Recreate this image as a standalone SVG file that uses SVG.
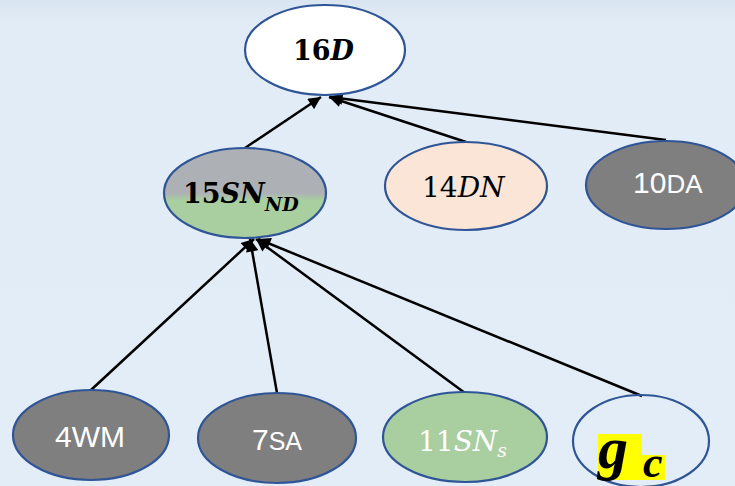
<svg xmlns="http://www.w3.org/2000/svg" width="735" height="486" viewBox="0 0 735 486">
<defs>
<linearGradient id="bg" x1="0" y1="0" x2="0" y2="1">
<stop offset="0" stop-color="#D9E5F1"/>
<stop offset="0.05" stop-color="#E2ECF6"/>
<stop offset="1" stop-color="#E3EDF7"/>
</linearGradient>
<linearGradient id="split" x1="0" y1="0" x2="0" y2="1">
<stop offset="0" stop-color="#ADB1B6"/>
<stop offset="0.5" stop-color="#ADB1B6"/>
<stop offset="0.58" stop-color="#A9CE9F"/>
<stop offset="1" stop-color="#A9CE9F"/>
</linearGradient>
<marker id="arr" viewBox="0 0 10 10" refX="10" refY="5" markerWidth="5.5" markerHeight="5" orient="auto" markerUnits="strokeWidth">
<path d="M0,0 L10,5 L0,10 z" fill="#000"/>
</marker>
</defs>
<style>
.n{stroke:#2F5597;stroke-width:2.2}
.gray{fill:#7F7F7F}
.e{stroke:#000;stroke-width:2.5;fill:none;marker-end:url(#arr)}
.serif{font-family:"DejaVu Serif","Liberation Serif",serif}
.lserif{font-family:"Liberation Serif","DejaVu Serif",serif}
.sans{font-family:"Liberation Sans","Noto Sans",sans-serif;fill:#fff}
</style>
<rect width="735" height="486" fill="url(#bg)"/>
<g id="connectors">
<line class="e" x1="245" y1="148" x2="321" y2="97"/>
<line class="e" x1="466" y1="142" x2="329" y2="97"/>
<line class="e" x1="666" y1="140" x2="330" y2="97"/>
<line class="e" x1="91" y1="390" x2="254" y2="239"/>
<line class="e" x1="277" y1="393" x2="250" y2="239"/>
<line class="e" x1="465" y1="393" x2="256" y2="239"/>
<line class="e" x1="642" y1="396" x2="258" y2="239"/>
</g>
<g id="n16D">
<ellipse class="n" cx="325" cy="50" rx="80" ry="45" fill="#fff"/>
<text class="serif" x="293" y="60" font-size="27" font-weight="bold">16<tspan font-style="italic">D</tspan></text>
</g>
<g id="n15SN">
<ellipse class="n" cx="245" cy="193" rx="81" ry="45" fill="url(#split)"/>
<text class="serif" x="183" y="203" font-size="27" font-weight="bold">15<tspan font-style="italic">SN</tspan><tspan font-style="italic" font-size="19" dy="8">ND</tspan></text>
</g>
<g id="n14DN">
<ellipse class="n" cx="466" cy="186" rx="81" ry="44" fill="#FBE5D6"/>
<text class="serif" x="422" y="197" font-size="28">14<tspan font-style="italic">DN</tspan></text>
</g>
<g id="n10DA">
<ellipse class="n gray" cx="666" cy="185" rx="80" ry="44"/>
<text class="sans" x="633" y="193" font-size="30">10<tspan font-size="26">DA</tspan></text>
</g>
<g id="n4WM">
<ellipse class="n gray" cx="91" cy="435" rx="78" ry="45"/>
<text class="sans" x="55" y="447" font-size="30">4WM</text>
</g>
<g id="n7SA">
<ellipse class="n gray" cx="277" cy="438" rx="79" ry="45"/>
<text class="sans" x="252" y="450" font-size="30">7<tspan font-size="25">SA</tspan></text>
</g>
<g id="n11SN">
<ellipse class="n" cx="465" cy="437" rx="82" ry="45" fill="#A9CE9F"/>
<text class="serif" x="418" y="451" font-size="28" fill="#fff">11<tspan font-style="italic">SN</tspan><tspan font-style="italic" font-size="19" dy="6">s</tspan></text>
</g>
<g id="ngc">
<ellipse class="n" cx="641" cy="441" rx="68" ry="46" fill="none"/>
<rect x="598" y="434" width="44" height="46" fill="#FFFF00"/>
<rect x="641" y="455" width="24" height="25" fill="#FFFF00"/>
<text class="lserif" x="598" y="468" font-size="60" font-weight="bold" font-style="italic">g</text>
<text class="lserif" x="643" y="477" font-size="44" font-weight="bold" font-style="italic">c</text>
</g>
</svg>
